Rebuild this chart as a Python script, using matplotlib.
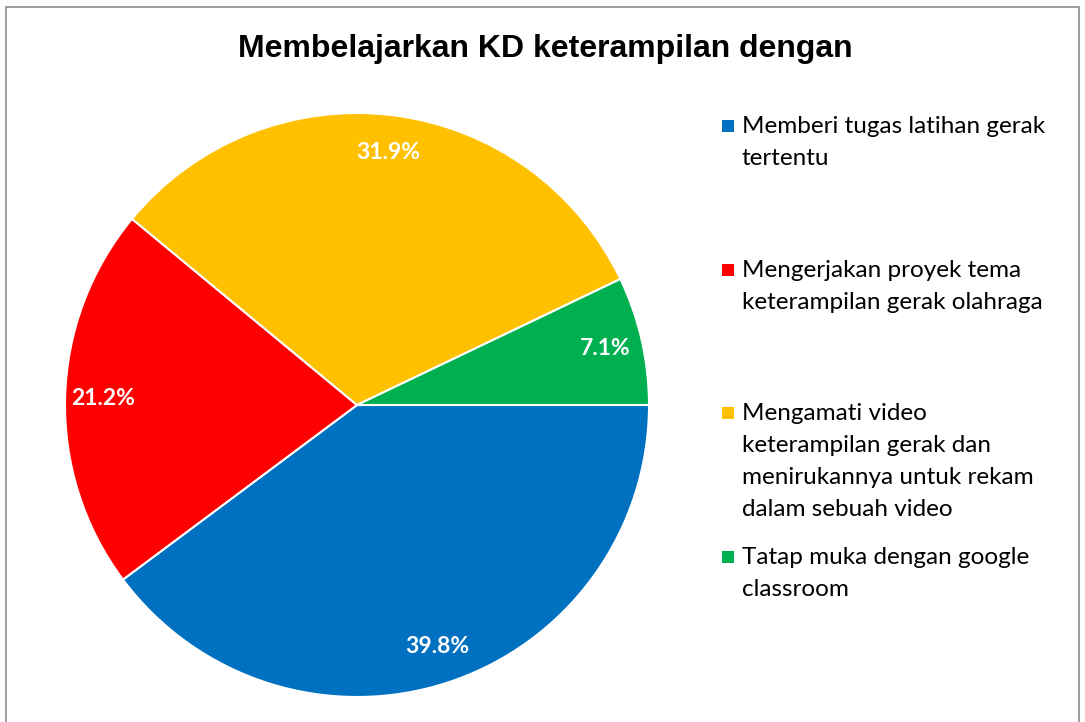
import matplotlib
matplotlib.use('Agg')
from matplotlib import pyplot as plt
from matplotlib.patches import Rectangle

# data
labels = ['Memberi tugas latihan gerak\ntertentu',
          'Mengerjakan proyek tema\nketerampilan gerak olahraga',
          'Mengamati video\nketerampilan gerak dan\nmenirukannya untuk rekam\ndalam sebuah video',
          'Tatap muka dengan google\nclassroom']
values = [39.8, 21.2, 31.9, 7.1]
colors = ['#0070C0', '#FF0000', '#FFC000', '#00B050']
title = 'Membelajarkan KD keterampilan dengan'

W, H = 1085, 722
fig = plt.figure(figsize=(W / 100, H / 100), dpi=100)

# outer chart border
fig.patches.append(Rectangle((6 / W, -0.05), 1073 / W, (H - 7) / H + 0.05,
                             transform=fig.transFigure, fill=False,
                             edgecolor='#8c8c8c', linewidth=1.2))

cx, cy, r = 357, 405, 292
ax = fig.add_axes([(cx - r) / W, (H - cy - r) / H, 2 * r / W, 2 * r / H])
wedges, texts, autotexts = ax.pie(values, colors=colors, startangle=0, counterclock=False,
                                  autopct='%.1f%%', pctdistance=0.87, radius=1,
                                  wedgeprops=dict(edgecolor='white', linewidth=1.5))
for t in autotexts:
    t.set_color('white')
    t.set_fontweight('bold')
    t.set_fontsize(16.5)
    t.set_family('Lato')
ax.set_xlim(-1, 1)
ax.set_ylim(-1, 1)
ax.set_aspect('equal')
ax.axis('off')

fig.text(545 / W, 1 - 49 / H, title, ha='center', va='center',
         fontsize=23, fontweight='bold', family='Liberation Sans')

# legend, laid out like the Excel one
leg_y = [126, 270, 413, 557]
for lab, col, y in zip(labels, colors, leg_y):
    fig.patches.append(Rectangle((722 / W, 1 - (y + 6) / H), 12 / W, 12 / H,
                                 transform=fig.transFigure, facecolor=col, edgecolor='none'))
    fig.text(742 / W, 1 - (y - 10) / H, lab, ha='left', va='top',
             fontsize=17.5, family='Lato', linespacing=1.65, color='black')

fig.savefig('out.png', dpi=100)
